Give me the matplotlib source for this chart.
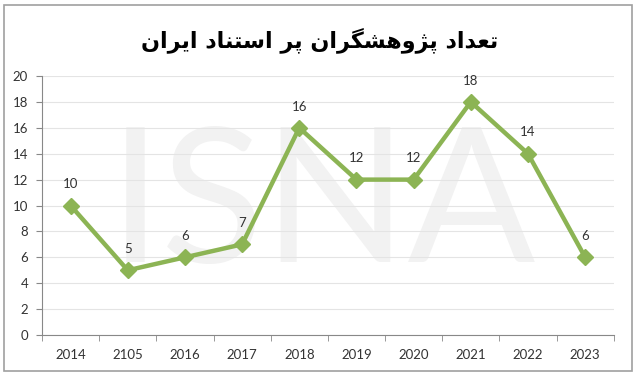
import matplotlib.pyplot as plt
from matplotlib.patches import Rectangle

years = ["2014", "2105", "2016", "2017", "2018", "2019", "2020", "2021", "2022", "2023"]
counts = [10, 5, 6, 7, 16, 12, 12, 18, 14, 6]
title = "تعداد پژوهشگران پر استناد ایران"

# matplotlib does no arabic shaping, so pick presentation forms by hand
# letter: (isolated, final, initial, medial); 2-tuple = joins only to the right
forms = {
    "ت": "\uFE95\uFE96\uFE97\uFE98", "ع": "\uFEC9\uFECA\uFECB\uFECC",
    "د": "\uFEA9\uFEAA", "ا": "\uFE8D\uFE8E",
    "پ": "\uFB56\uFB57\uFB58\uFB59", "ژ": "\uFB8A\uFB8B",
    "و": "\uFEED\uFEEE", "ه": "\uFEE9\uFEEA\uFEEB\uFEEC",
    "ش": "\uFEB5\uFEB6\uFEB7\uFEB8", "گ": "\uFB92\uFB93\uFB94\uFB95",
    "ر": "\uFEAD\uFEAE", "ن": "\uFEE5\uFEE6\uFEE7\uFEE8",
    "س": "\uFEB1\uFEB2\uFEB3\uFEB4", "ی": "\uFBFC\uFBFD\uFBFE\uFBFF",
}

def shape(s):
    out = []
    for i, ch in enumerate(s):
        if ch not in forms:
            out.append(ch)
            continue
        prev = s[i-1] if i > 0 else " "
        nxt = s[i+1] if i < len(s)-1 else " "
        jp = prev in forms and len(forms[prev]) == 4
        jn = nxt in forms and len(forms[ch]) == 4
        f = forms[ch]
        if jp and jn:
            out.append(f[3])
        elif jp:
            out.append(f[1])
        elif jn:
            out.append(f[2])
        else:
            out.append(f[0])
    return "".join(out)[::-1]

plt.rcParams['font.family'] = ['Lato', 'DejaVu Sans']

fig = plt.figure(figsize=(6.4, 3.82), dpi=100)
ax = fig.add_axes([0.0656, 0.123, 0.8934, 0.678])

fig.patches.append(Rectangle((0.007, 0.029), 0.981, 0.958, transform=fig.transFigure,
                             fill=False, edgecolor='#a0a0a0', linewidth=1.2))

fig.text(0.5, 0.895, shape(title), ha='center', va='center', fontsize=16,
         fontweight='bold', family='DejaVu Sans')

# faint watermark behind the data
ax.text(0.49, 0.55, "ISNA", transform=ax.transAxes, ha='center', va='center_baseline',
        fontsize=136, color='#f2f2f2', zorder=0)

x = list(range(len(years)))
ax.plot(x, counts, color='#8cb454', linewidth=3.2, marker='D', markersize=8.5,
        zorder=3)
for xi, v in zip(x, counts):
    ax.annotate(str(v), (xi, v), xytext=(0, 11), textcoords='offset points',
                ha='center', va='bottom', fontsize=9.5, color='#333333')

ax.set_xlim(-0.5, len(years) - 0.5)
ax.set_ylim(0, 20)
ax.set_yticks(range(0, 21, 2))
ax.set_xticks(x)
ax.set_xticklabels(years)
ax.set_xticks([i - 0.5 for i in range(len(years) + 1)], minor=True)
ax.tick_params(axis='x', which='major', length=0, pad=10)
ax.tick_params(axis='x', which='minor', length=4, color='#888888', direction='out')
ax.tick_params(axis='y', length=4, color='#888888', pad=6)
ax.tick_params(labelsize=9.5, labelcolor='#333333')

ax.grid(axis='y', color='#e4e4e4', linewidth=0.8)
ax.set_axisbelow(True)
for side in ['top', 'right']:
    ax.spines[side].set_visible(False)
for side in ['left', 'bottom']:
    ax.spines[side].set_color('#888888')

fig.savefig("out.png", dpi=100)
